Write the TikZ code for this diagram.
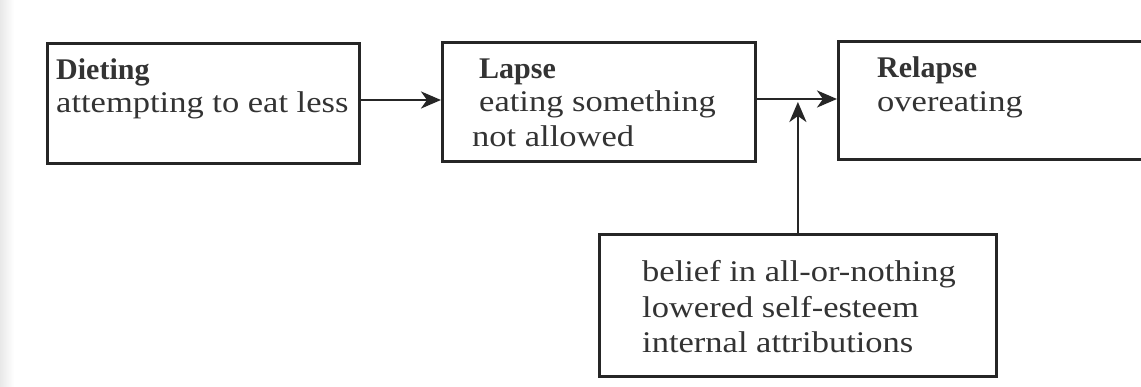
\documentclass[tikz,border=0pt]{standalone}
\usepackage{fontspec}
\setmainfont{Liberation Serif}[FakeStretch=1.15, BoldFeatures={FakeStretch=1.0}]
\usetikzlibrary{arrows.meta}
\definecolor{ink}{HTML}{262626}
\definecolor{txtc}{HTML}{333333}
\begin{document}
\begin{tikzpicture}[x=1pt,y=-1pt,
  box/.style={draw=ink, line width=2.8pt, inner sep=0pt, anchor=north west},
  txt/.style={text=txtc, inner sep=0pt, anchor=base west,
    font=\fontsize{30}{34}\selectfont},
  head/.style={txt, font=\fontsize{30}{34}\selectfont\bfseries},
  flow/.style={draw=ink, line width=2.8pt,
    -{Stealth[length=20pt, width=17pt, inset=6pt]}}]
\useasboundingbox (0,0) rectangle (1141,387);
\clip (0,0) rectangle (1141,387);
\fill[white] (0,0) rectangle (1141,387);
\shade[left color=black!9, right color=white] (0,0) rectangle (14,387);

% boxes
\node[box, minimum width=312pt, minimum height=120pt] (diet) at (46,42) {};
\node[box, minimum width=313pt, minimum height=119pt] (lapse) at (441,41) {};
\node[box, minimum width=330pt, minimum height=118pt] (relapse) at (837,40) {};
\node[box, minimum width=397pt, minimum height=142pt] (belief) at (598,233) {};

% labels
\node[head] (dietA) at (56,80) {Dieting};
\node[txt]  (dietB) at (56,113) {attempting to eat less};

\node[head] (lapseA) at (479,79) {Lapse};
\node[txt]  (lapseB) at (479,112) {eating something};
\node[txt]  (lapseC) at (472,147) {not allowed};

\node[head] (relA) at (877,78) {Relapse};
\node[txt]  (relB) at (877,112) {overeating};

\node[txt] (belA) at (642,282) {belief in all-or-nothing};
\node[txt] (belB) at (642,318) {lowered self-esteem};
\node[txt] (belC) at (642,353) {internal attributions};

% connectors
\draw[flow] (diet.east |- 0,100) -- (lapse.west |- 0,100);
\draw[flow] (lapse.east |- 0,99) -- (relapse.west |- 0,99);
\draw[flow, shorten >=3pt] (belief.north) -- (belief.north |- 0,99);
\end{tikzpicture}
\end{document}
